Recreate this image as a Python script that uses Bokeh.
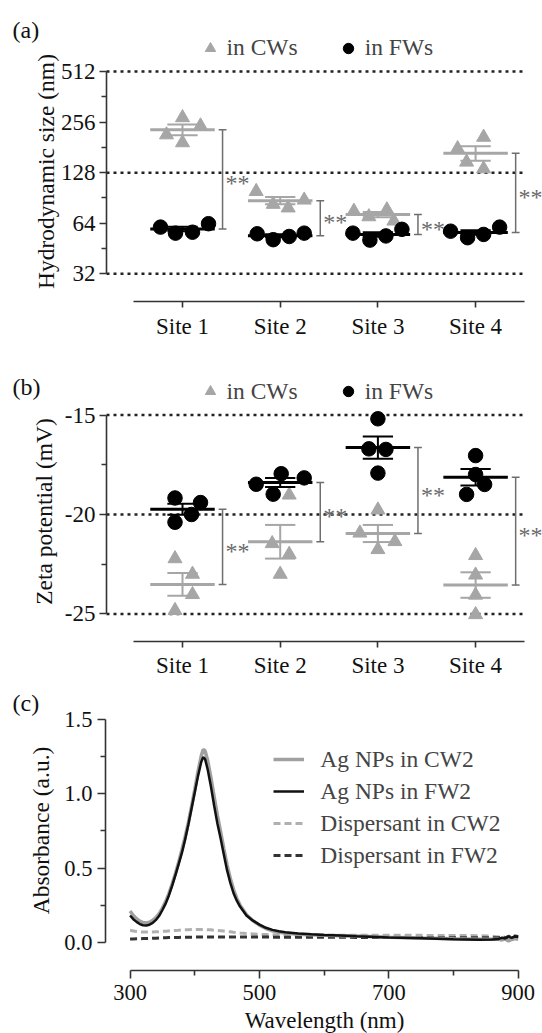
import numpy as np
from bokeh.plotting import figure
from bokeh.layouts import column
from bokeh.models import Range1d, FixedTicker, PrintfTickFormatter, Label, Legend, LegendItem
from bokeh.core.properties import value
from bokeh.embed import file_html
from bokeh.resources import INLINE

# ---------------- data ----------------
SITES = ["Site 1", "Site 2", "Site 3", "Site 4"]

# (a) hydrodynamic size (nm), 4 replicates per site
SIZE_CW = [[272, 243, 215, 193], [99, 83, 79, 88], [75.5, 70, 77, 66], [178, 208, 148, 135]]
SIZE_FW = [[60.7, 55.9, 56.6, 63.6], [55.4, 51.1, 53.4, 55.9], [55.9, 50.8, 53.8, 58.9], [57.4, 52.5, 54.9, 60.7]]
SIZE_TICKS = [32, 64, 128, 256, 512]
SIZE_REF = [32, 128, 512]

# (b) zeta potential (mV)
ZETA_CW = [[-22.22, -23.0, -24.02, -24.82], [-19.02, -21.46, -22.0, -23.0],
           [-19.77, -20.93, -21.36, -21.76], [-22.06, -23.04, -24.05, -25.03]]
ZETA_FW = [[-19.17, -19.40, -20.0, -20.39], [-18.48, -18.98, -17.95, -18.16],
           [-15.19, -16.70, -16.73, -17.92], [-17.04, -17.99, -18.49, -18.99]]
ZETA_TICKS = [-25, -20, -15]
ZETA_REF = [-25, -20, -15]

# (c) UV-vis spectra
WAVELENGTH = [300, 305, 310, 315, 320, 325, 330, 335, 340, 345, 350, 355, 360, 365, 370, 375, 380, 385,
              390, 395, 400, 405, 410, 413, 416, 420, 425, 430, 435, 440, 445, 450, 455, 460, 465, 470,
              480, 490, 500, 510, 520, 530, 540, 560, 580, 600, 625, 650, 700, 750, 800, 840,
              860, 870, 875, 880, 885, 890, 895, 900]
ABS_AG_CW2 = [.210, .180, .158, .142, .132, .130, .135, .147, .166, .193, .230, .274, .328, .392, .462, .538,
              .620, .708, .805, .915, 1.030, 1.150, 1.255, 1.300, 1.290,
              1.225, 1.110, .980, .855, .745, .630, .520, .430, .355, .295, .250,
              .185, .145, .115, .092, .077, .067, .061, .054, .050, .047, .044, .041,
              .034, .028, .023, .020, .019, .020, .015, .022, .008, .018, .025, .020]
ABS_AG_FW2 = [.180, .155, .137, .122, .114, .113, .118, .130, .150, .178, .217, .260, .315, .380, .450, .525,
              .600, .690, .790, .900, 1.010, 1.120, 1.215, 1.248, 1.235,
              1.165, 1.050, .920, .800, .700, .590, .484, .400, .330, .280, .240,
              .180, .145, .118, .097, .083, .074, .067, .058, .053, .049, .045, .040,
              .032, .026, .020, .016, .018, .022, .030, .025, .036, .030, .038, .035]
ABS_DISP_CW2 = [.080, .076, .072, .070, .068, .068, .068, .069, .070, .071, .073, .074, .076, .077, .079, .080,
                .082, .083, .084, .085, .085, .085, .085, .085, .085,
                .084, .083, .081, .079, .077, .075, .072, .070, .067, .065, .062,
                .058, .055, .052, .051, .050, .049, .048, .047, .047, .047, .047, .047,
                .046, .046, .045, .044, .040, .035, .042, .030, .038, .025, .035, .030]
ABS_DISP_FW2 = [.022, .022, .023, .023, .024, .024, .025, .026, .027, .028, .029, .030, .031, .031, .032, .032,
                .033, .033, .034, .034, .034, .035, .035, .035, .035,
                .035, .035, .035, .035, .035, .035, .035, .035, .035, .035, .035,
                .035, .035, .035, .035, .034, .034, .034, .034, .033, .033, .033, .032,
                .032, .031, .030, .030, .030, .032, .036, .028, .040, .033, .042, .038]
WL_TICKS = [300, 500, 700, 900]
WL_MINOR = [400, 600, 800]
ABS_TICKS = [0.0, 0.5, 1.0, 1.5]
ABS_MINOR = [0.25, 0.75, 1.25]

# ---------------- layout / style constants ----------------
FONT = "Liberation Serif"
GRAY = "#a6a6a6"
BLACK = "#000000"
AXIS = "#333333"
UNIT = 97.7  # pixels per category in panels (a),(b)
X_AXIS_POS = 0.222  # where the y axis stands in panels (a),(b)

# horizontal spread of replicate points (pixels)
A_CW_DX = [[0, 18, -16, 0], [-24, -7, 8, 24], [-24, -9, 9, 16], [-18, 8, -9, 8]]
A_FW_DX = [[-22, -7, 10, 26], [-23, -7, 9, 24], [-25, -8, 8, 24], [-25, -8, 8, 24]]
B_CW_DX = [[-7.5, 10, 10, -7.5], [9, -8, 9, 0], [0, -18, 17, 0], [0, 0, 0, 0]]
B_FW_DX = [[-7.5, 18, 9, -7.5], [-24, -7, 1, 24], [0, -9, 8, 0], [0, 0, 9, -9]]


def style_axis(ax, size):
    ax.axis_line_color = AXIS
    ax.axis_line_width = 1.6
    ax.major_tick_line_color = AXIS
    ax.major_tick_line_width = 1.6
    ax.minor_tick_line_color = AXIS
    ax.minor_tick_line_width = 1.6
    ax.major_tick_in = 0
    ax.minor_tick_in = 0
    ax.major_label_text_font = FONT
    ax.major_label_text_font_size = size
    ax.major_label_text_color = "#111111"


def text_label(p, x, y, text, size, angle=0, align="left"):
    p.add_layout(Label(x=x, y=y, x_units="screen", y_units="screen", text=text,
                       angle=angle, angle_units="deg", text_align=align, text_baseline="middle",
                       text_font=FONT, text_font_size=size, text_color="#111111"))


def new_fig(h, xr, yr, log=False):
    p = figure(width=542, height=h, x_range=xr, y_range=yr,
               y_axis_type="log" if log else "linear", output_backend="svg",
               toolbar_location=None, min_border_left=0, min_border_right=0,
               min_border_top=0, min_border_bottom=0)
    p.outline_line_color = None
    p.xgrid.visible = False
    p.ygrid.visible = False
    return p


def dot_panel(cw, fw, cw_dx, fw_dx, y_range, log, x_axis_y, ticks, minor, ref, ylabel, letter,
              legend_vy, letter_cy, ylabel_cx):
    H = 340
    p = new_fig(H, Range1d(1 - 182 / UNIT, 1 + 360 / UNIT), y_range, log)

    # dotted reference lines
    p.segment(x0=[X_AXIS_POS] * len(ref), x1=[4.5] * len(ref), y0=ref, y1=ref,
              line_color="#222222", line_width=2.5, line_dash="3 4")

    def xs(dx):
        return [i + 1 + d / UNIT for i, row in enumerate(dx) for d in row]

    cw_y = [v for row in cw for v in row]
    fw_y = [v for row in fw for v in row]
    r_cw = p.scatter(xs(cw_dx), cw_y, marker="triangle", size=14, color=GRAY)
    r_fw = p.scatter(xs(fw_dx), fw_y, marker="circle", size=14.5, color=BLACK)

    means = {}
    for name, data, col in (("cw", cw, GRAY), ("fw", fw, BLACK)):
        m = [float(np.mean(r)) for r in data]
        s = [float(np.std(r, ddof=1) / np.sqrt(len(r))) for r in data]
        means[name] = m
        cx = [i + 1 for i in range(4)]
        p.segment(x0=cx, x1=cx, y0=[a - b for a, b in zip(m, s)], y1=[a + b for a, b in zip(m, s)],
                  line_color=col, line_width=2)
        for sign in (1, -1):
            yy = [a + sign * b for a, b in zip(m, s)]
            p.segment(x0=[c - 0.155 for c in cx], x1=[c + 0.155 for c in cx], y0=yy, y1=yy,
                      line_color=col, line_width=2)
        p.segment(x0=[c - 0.33 for c in cx], x1=[c + 0.33 for c in cx], y0=m, y1=m,
                  line_color=col, line_width=3)

    # significance brackets
    bx = [i + 1 + 0.41 for i in range(4)]
    mc, mf = means["cw"], means["fw"]
    p.segment(x0=bx, x1=bx, y0=mc, y1=mf, line_color="#6e6e6e", line_width=1.5)
    for yy in (mc, mf):
        p.segment(x0=[b - 0.04 for b in bx], x1=[b + 0.04 for b in bx], y0=yy, y1=yy,
                  line_color="#6e6e6e", line_width=1.5)
    if log:
        mid = [float(np.sqrt(a * b)) for a, b in zip(mc, mf)]
    else:
        mid = [(a + b) / 2 for a, b in zip(mc, mf)]
    p.text(x=[b + 0.03 for b in bx], y=mid, text=["**"] * 4, text_font=value(FONT),
           text_font_size="24px", text_color="#6a6a6a", text_baseline="middle",
           text_align="left", y_offset=4)

    # axes (fixed inside the frame)
    style_axis(p.yaxis[0], "23px")
    p.yaxis.fixed_location = X_AXIS_POS
    p.yaxis.ticker = FixedTicker(ticks=ticks, minor_ticks=minor)
    p.yaxis.formatter = PrintfTickFormatter(format="%d")
    p.yaxis.bounds = (ticks[0], ticks[-1])
    p.yaxis.major_tick_out = 7
    p.yaxis.minor_tick_out = 5
    p.yaxis.major_label_standoff = 4

    style_axis(p.xaxis[0], "23px")
    p.xaxis.fixed_location = x_axis_y
    p.xaxis.ticker = FixedTicker(ticks=[1, 2, 3, 4], minor_ticks=[])
    p.xaxis.major_label_overrides = {i + 1: s for i, s in enumerate(SITES)}
    p.xaxis.bounds = (0.5, 4.5)
    p.xaxis.major_tick_out = 6
    p.xaxis.major_label_standoff = 6

    legend = Legend(items=[LegendItem(label="in CWs", renderers=[r_cw]),
                           LegendItem(label="in FWs", renderers=[r_fw])],
                    orientation="horizontal", location=(196.5, legend_vy), padding=0, margin=0,
                    spacing=37, glyph_width=26, glyph_height=26, label_standoff=4,
                    label_text_font=FONT, label_text_font_size="23.5px",
                    border_line_color=None, background_fill_alpha=0)
    p.add_layout(legend)

    text_label(p, 12, H - letter_cy, letter, "24px")
    text_label(p, ylabel_cx, H - 171, ylabel, "23.5px", angle=90, align="center")
    return p


# (a): 512 at 71 px, 50.6 px per doubling, frame 0..340 px
pa = dot_panel(SIZE_CW, SIZE_FW, A_CW_DX, A_FW_DX, Range1d(12.84, 1354), True, 21.9, SIZE_TICKS,
               [t * np.sqrt(2) for t in SIZE_TICKS[:-1]], SIZE_REF, "Hydrodynamic size (nm)",
               "(a)", 279, 29, 45)
# (b): -15 at 74.5 px, 19.9 px per mV
pb = dot_panel(ZETA_CW, ZETA_FW, B_CW_DX, B_FW_DX, Range1d(-28.342, -11.256), False, -26.38, ZETA_TICKS,
               [(a + b) / 2 for a, b in zip(ZETA_TICKS[:-1], ZETA_TICKS[1:])], ZETA_REF,
               "Zeta potential (mV)", "(b)", 275.3, 46.7, 43)

# ---------------- panel (c) ----------------
HC = 353
pc = new_fig(HC, Range1d(99.7, 937.6), Range1d(-0.616, 1.765))

r_dcw = pc.line(WAVELENGTH, ABS_DISP_CW2, line_color="#b0b0b0", line_width=3, line_dash="7 4")
r_dfw = pc.line(WAVELENGTH, ABS_DISP_FW2, line_color="#333333", line_width=3, line_dash="7 4")
r_cw2 = pc.line(WAVELENGTH, ABS_AG_CW2, line_color="#a0a0a0", line_width=3.5)
r_fw2 = pc.line(WAVELENGTH, ABS_AG_FW2, line_color="#111111", line_width=2.5)

style_axis(pc.yaxis[0], "22.5px")
pc.yaxis.fixed_location = 262.0
pc.yaxis.ticker = FixedTicker(ticks=ABS_TICKS, minor_ticks=ABS_MINOR)
pc.yaxis.formatter = PrintfTickFormatter(format="%.1f")
pc.yaxis.bounds = (ABS_TICKS[0], ABS_TICKS[-1])
pc.yaxis.major_tick_out = 8
pc.yaxis.minor_tick_out = 5
pc.yaxis.major_label_standoff = 5

style_axis(pc.xaxis[0], "22.5px")
pc.xaxis.fixed_location = -0.191
pc.xaxis.ticker = FixedTicker(ticks=WL_TICKS, minor_ticks=WL_MINOR)
pc.xaxis.formatter = PrintfTickFormatter(format="%d")
pc.xaxis.bounds = (WL_TICKS[0], WL_TICKS[-1])
pc.xaxis.major_tick_out = 8
pc.xaxis.minor_tick_out = 5
pc.xaxis.major_label_standoff = 7

legend_c = Legend(items=[LegendItem(label="Ag NPs in CW2", renderers=[r_cw2]),
                         LegendItem(label="Ag NPs in FW2", renderers=[r_fw2]),
                         LegendItem(label="Dispersant in CW2", renderers=[r_dcw]),
                         LegendItem(label="Dispersant in FW2", renderers=[r_dfw])],
                  location=(273.3, 161.6), padding=0, margin=0, spacing=0,
                  glyph_width=31, glyph_height=32, label_height=32, label_standoff=16,
                  label_text_font=FONT, label_text_font_size="23.5px",
                  border_line_color=None, background_fill_alpha=0)
pc.add_layout(legend_c)
text_label(pc, 12, HC - 22, "(c)", "24px")
text_label(pc, 40, HC - 150, "Absorbance (a.u.)", "23.5px", angle=90, align="center")
text_label(pc, 324, HC - 340, "Wavelength (nm)", "23px", align="center")

layout = column(pa, pb, pc, spacing=0)
open("out.html", "w").write(file_html(layout, INLINE))
